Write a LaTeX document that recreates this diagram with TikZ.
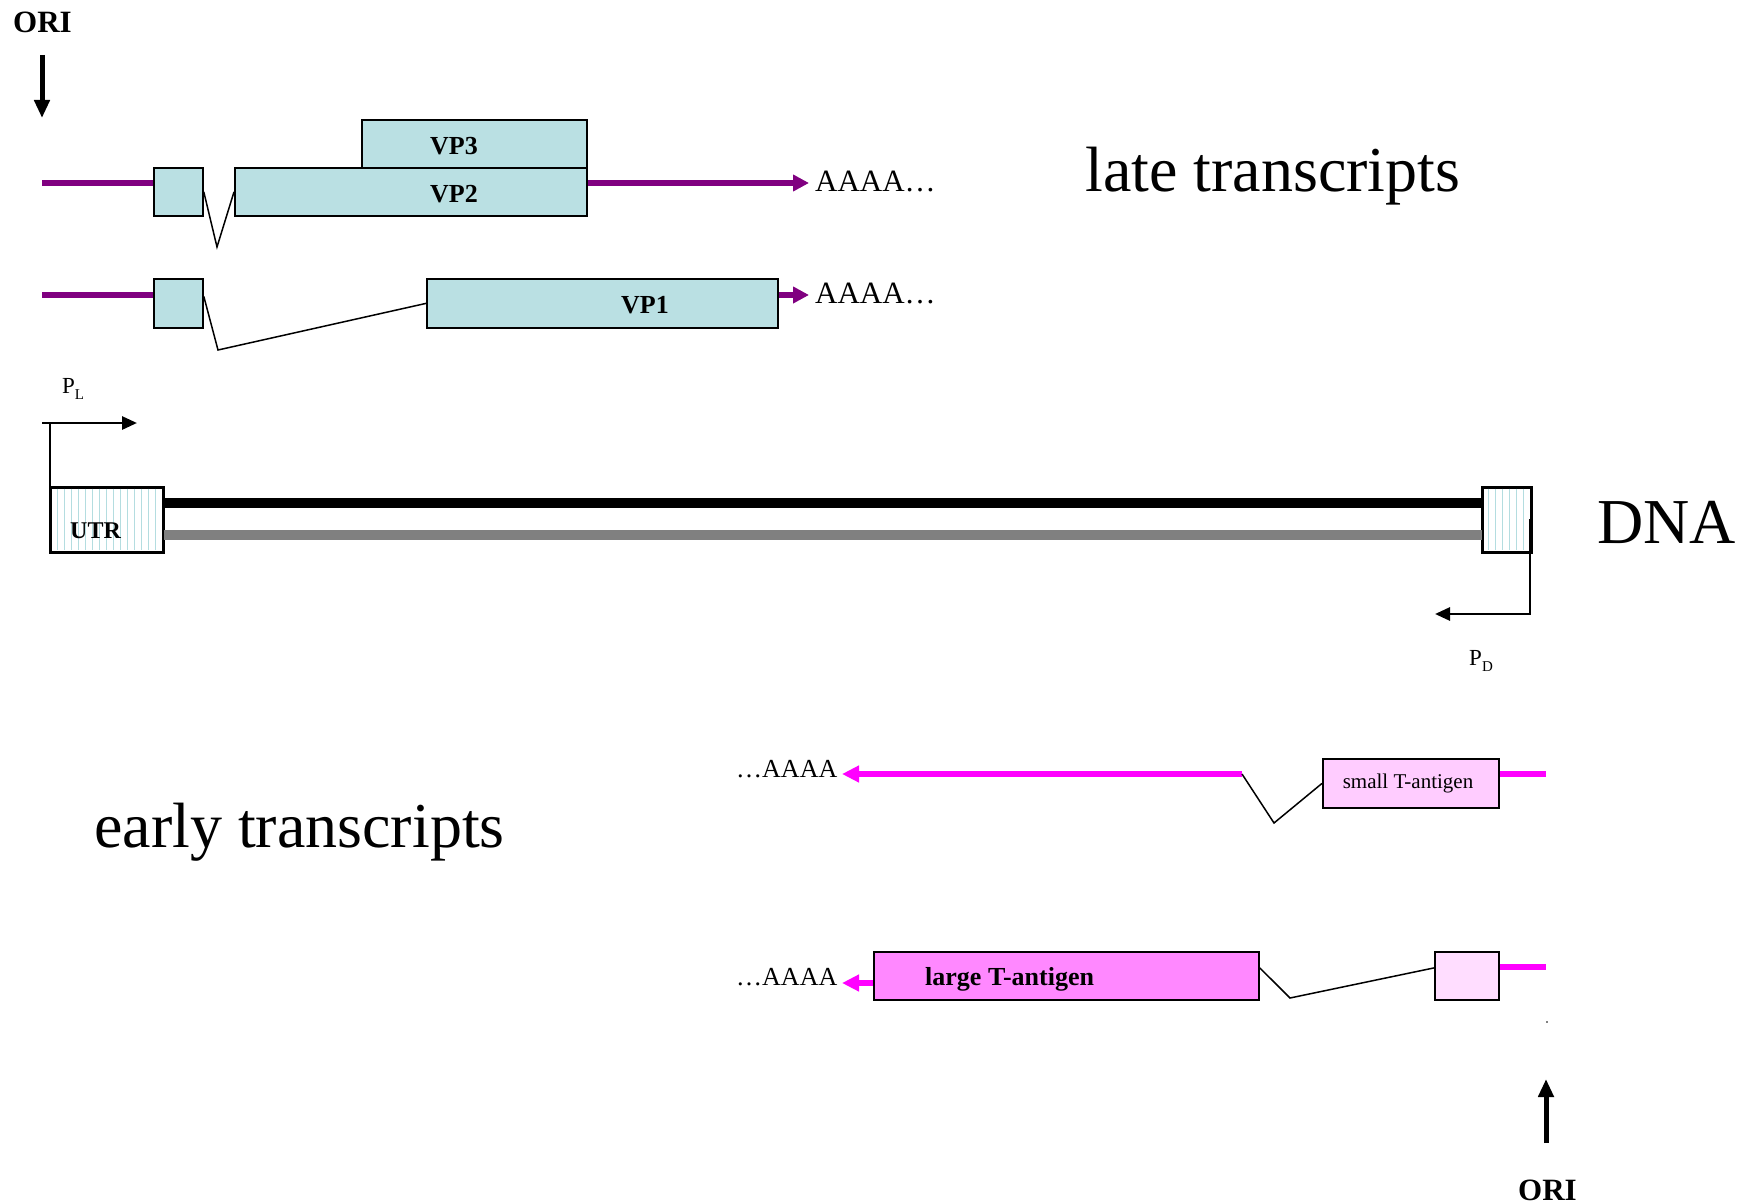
\documentclass[tikz,border=0pt]{standalone}
\usepackage{fontspec}
\setmainfont{Liberation Serif}
\usetikzlibrary{arrows.meta,calc}
\definecolor{vpc}{HTML}{BAE0E3}
\definecolor{purp}{HTML}{800080}
\definecolor{mag}{HTML}{FF00FF}
\definecolor{stpink}{HTML}{FFCCFF}
\definecolor{ltpink}{HTML}{FF88FF}
\definecolor{xpink}{HTML}{FFDDFF}
\definecolor{hatchc}{HTML}{B4DDE0}
\definecolor{strandgray}{HTML}{808080}
\begin{document}
\begin{tikzpicture}[x=1pt,y=-1pt,
  box/.style={draw=black, line width=1.8pt, inner sep=0pt, anchor=north west},
  exon/.style={box, fill=vpc},
  splice/.style={draw=black, line width=1.5pt, line join=miter},
  purpline/.style={draw=purp, line width=5.5pt},
  purparrow/.style={purpline, -{Triangle[length=16pt,width=16pt]}},
  magline/.style={draw=mag, line width=5.5pt},
  magarrow/.style={magline, -{Triangle[length=17pt,width=16pt]}},
  oriarrow/.style={draw=black, line width=5pt, -{Triangle[length=18pt,width=15pt]}},
  promarrow/.style={draw=black, line width=2.8pt, -{Triangle[length=15pt,width=13pt]}},
  bigtext/.style={inner sep=0pt, anchor=base west, font=\fontsize{64}{70}\selectfont},
  txt/.style={inner sep=0pt, anchor=base west},
]
\useasboundingbox (0,0) rectangle (1754,1204);

% ---------- top ORI ----------
\node[txt, font=\bfseries\fontsize{31}{34}\selectfont] (oriT) at (13,33) {ORI};
\coordinate (oriTa) at (42,55);
\coordinate (oriTb) at (42,118);
\draw[oriarrow] (oriTa) -- (oriTb);

% ---------- late transcripts, row 1 ----------
\node[exon, minimum width=49pt, minimum height=48pt] (e1) at (153,167) {};
\node[exon, minimum width=225pt, minimum height=48pt] (vp3) at (361,119) {};
\node[exon, minimum width=352pt, minimum height=48pt] (vp2) at (234,167) {};
\node[txt, anchor=base, font=\bfseries\fontsize{26}{28}\selectfont] (vp3t) at (454,154) {VP3};
\node[txt, anchor=base, font=\bfseries\fontsize{26}{28}\selectfont] (vp2t) at (454,202) {VP2};
\coordinate (l1s) at (42,183);
\coordinate (l1t) at (809,183);
\coordinate (v1) at (217,247);
\draw[purpline] (l1s) -- (l1s -| e1.west);
\draw[purparrow] (l1t -| vp2.east) -- (l1t);
\draw[splice] (e1.east) -- (v1) -- (vp2.west);
\node[txt, font=\fontsize{31}{34}\selectfont] (a1) at (815,192) {AAAA\ldots};

% ---------- late transcripts, row 2 ----------
\node[exon, minimum width=49pt, minimum height=49pt] (e2) at (153,278) {};
\node[exon, minimum width=351pt, minimum height=49pt] (vp1) at (426,278) {};
\node[txt, anchor=base, font=\bfseries\fontsize{26}{28}\selectfont] (vp1t) at (645,313) {VP1};
\coordinate (l2s) at (42,295);
\coordinate (l2t) at (809,295);
\coordinate (v2) at (218,350);
\draw[purpline] (l2s) -- (l2s -| e2.west);
\draw[purparrow] (l2t -| vp1.east) -- (l2t);
\draw[splice] ($(e2.east)+(0,-7)$) -- (v2) -- (vp1.west);
\node[txt, font=\fontsize{31}{34}\selectfont] (a2) at (815,303) {AAAA\ldots};

\node[bigtext] (late) at (1085,191) {late transcripts};

% ---------- DNA ----------
\node[box, fill=white, minimum width=112pt, minimum height=64pt] (utr) at (50,487) {};
\node[box, fill=white, minimum width=48pt, minimum height=64pt] (rbox) at (1482,487) {};
\foreach \x in {57,64,...,158} \draw[hatchc, line width=1pt] (\x,488.5) -- (\x,549.5);
\foreach \x in {1488,1495,...,1527} \draw[hatchc, line width=1pt] (\x,488.5) -- (\x,549.5);
\draw[black, line width=1.8pt] (utr.north west) rectangle (utr.south east);
\draw[black, line width=1.8pt] (rbox.north west) rectangle (rbox.south east);
\node[txt, font=\bfseries\fontsize{24}{26}\selectfont] (utrt) at (70,538) {UTR};
\coordinate (bl) at (0,503);
\coordinate (gl) at (0,535);
\draw[black, line width=10pt] (utr.east |- bl) -- (rbox.west |- bl);
\draw[strandgray, line width=10pt] (utr.east |- gl) -- (rbox.west |- gl);
\node[bigtext] (dna) at (1597,543) {DNA};

% promoters
\coordinate (pl0) at (50,518);
\coordinate (pl1) at (50,423);
\coordinate (pl2) at (42,423);
\coordinate (pl3) at (137,423);
\draw[black, line width=2.8pt] (pl0) -- (pl1);
\draw[promarrow] (pl2) -- (pl3);
\node[txt, font=\fontsize{23}{25}\selectfont] (plt) at (62,393) {P\raisebox{-6pt}{\fontsize{15}{16}\selectfont L}};

\coordinate (pd0) at (1530,519);
\coordinate (pd1) at (1530,614);
\coordinate (pd2) at (1435,614);
\draw[promarrow, line join=miter] (pd0) -- (pd1) -- (pd2);
\node[txt, font=\fontsize{23}{25}\selectfont] (pdt) at (1469,665) {P\raisebox{-6pt}{\fontsize{15}{16}\selectfont D}};

% ---------- early transcripts ----------
\node[bigtext] (early) at (94,847) {early transcripts};

% row 1 (small T)
\node[box, fill=stpink, minimum width=176pt, minimum height=49pt] (st) at (1322,758) {};
\node[txt, anchor=base, font=\fontsize{21}{23}\selectfont] (stt) at (1408,788) {small T-antigen};
\coordinate (m1t) at (842,774);
\coordinate (m1s) at (1242,774);
\coordinate (m1v) at (1274,823);
\coordinate (m1e) at (1546,774);
\draw[magarrow] (m1s) -- (m1t);
\draw[splice] (m1s) -- (m1v) -- (st.west);
\draw[magline] (m1e -| st.east) -- (m1e);
\node[txt, font=\fontsize{26}{28}\selectfont] (a3) at (736,777) {\ldots AAAA};

% row 2 (large T)
\node[box, fill=ltpink, minimum width=385pt, minimum height=48pt] (lt) at (873,951) {};
\node[box, fill=xpink, minimum width=64pt, minimum height=48pt] (sb) at (1434,951) {};
\node[txt, font=\bfseries\fontsize{26}{28}\selectfont] (ltt) at (925,985) {large T-antigen};
\coordinate (m2t) at (842,983);
\coordinate (m2v) at (1290,998);
\coordinate (m2e) at (1546,967);
\draw[magarrow] (m2t -| lt.west) -- (m2t);
\draw[splice] ($(lt.east)+(0,-8)$) -- (m2v) -- ($(sb.west)+(0,-8)$);
\draw[magline] (m2e -| sb.east) -- (m2e);
\node[txt, font=\fontsize{26}{28}\selectfont] (a4) at (736,985) {\ldots AAAA};

% ---------- bottom ORI ----------
\fill[black] (1547,1022) circle (0.8pt);
\coordinate (oriBa) at (1546,1143);
\coordinate (oriBb) at (1546,1079);
\draw[oriarrow] (oriBa) -- (oriBb);
\node[txt, font=\bfseries\fontsize{31}{34}\selectfont] (oriB) at (1518,1200) {ORI};
\end{tikzpicture}
\end{document}
